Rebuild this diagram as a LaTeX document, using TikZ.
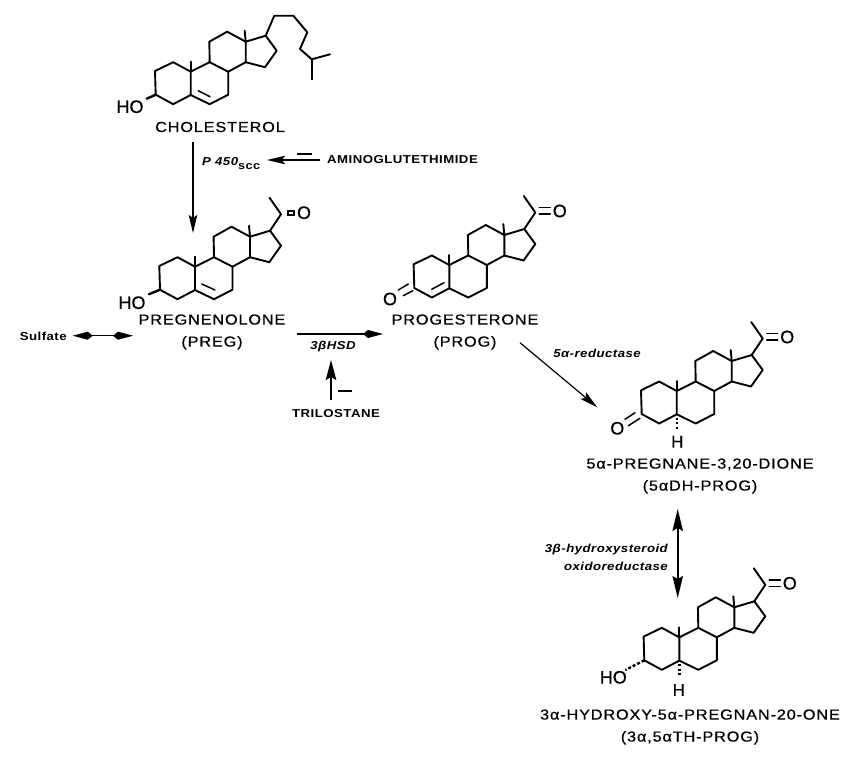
\documentclass[tikz,border=0pt]{standalone}
\usepackage{fontspec}
\usetikzlibrary{arrows.meta,calc}
\setmainfont[FakeBold=0.4]{Liberation Sans}
\newfontfamily\bigf[FakeStretch=1.12,LetterSpace=6,FakeBold=0.6]{Liberation Sans}
\newfontfamily\smf[FakeStretch=1.15,LetterSpace=4]{Liberation Sans}
\tikzset{
 bond/.style={line width=1.9pt,line join=round,line cap=round},
 thinbond/.style={line width=1.5pt,line cap=round},
 atom/.style={inner sep=0pt,font=\fontsize{18}{18}\selectfont},
 molname/.style={inner sep=0pt,align=center,font=\fontsize{14.5}{22}\bigf},
 smalltag/.style={inner sep=0pt,font=\fontsize{11.5}{18}\smf\bfseries},
 enz/.style={inner sep=0pt,align=right,font=\fontsize{11.5}{18}\smf\bfseries\itshape},
 arr/.style={line width=1.2pt,-{Stealth[length=18pt,width=8.5pt,inset=3pt]}},
 kitearr/.style={line width=1.2pt,-{Kite[length=20pt,width=8pt,inset=5pt]}},
 arrb/.style={line width=1.2pt,{Kite[length=20pt,width=8pt,inset=5pt]}-{Kite[length=20pt,width=8pt,inset=5pt]}},
 arrg/.style={line width=1.7pt,{Stealth[length=22pt,width=10.5pt,inset=3pt]}-{Stealth[length=22pt,width=10.5pt,inset=3pt]}},
 arrt/.style={line width=1.8pt,-{Stealth[length=20pt,width=10.5pt,inset=3pt]}},
}
\newcommand{\rings}{%
 \draw[bond] (0,0)--(0,23.3)--(-17.5,32.5)--(-35,23)--(-35.7,-.7)--(-17.5,-9.5)--(0,0)--(19,-9.5)--(37.5,0)--(37.5,23)--(19,32.5)--(0,23.3);
 \draw[bond] (19,-9.5)--(18.6,-30)--(36.5,-40)--(55,-30)--(55,-9.5)--(37.5,0);
 \draw[bond] (55,-30)--(75,-36)--(86,-21)--(74.3,-4.5)--(55,-9.5);
 \draw[bond] (0,0)--(0,-10);
 \draw[bond] (55,-30)--(54,-41);
}
\newcommand{\keto}{%
 \draw[bond] (75,-36)--(86,-52.5)--(74.5,-69);
 \draw[thinbond] (90,-57.5)--(101,-57.5);
 \draw[thinbond] (90,-51)--(101,-51);
 \node[atom] at (110.5,-54) {O};
}
\begin{document}
\begin{tikzpicture}[x=1pt,y=-1pt]
\useasboundingbox (0,0) rectangle (866,761);
% cholesterol
\begin{scope}[shift={(190.7,71.7)}]
 \rings
 \draw[thinbond] (7.6,19)--(19.3,25);
 \draw[bond] (75,-36)--(83.6,-56)--(102.6,-56)--(116.6,-39.4)--(109.3,-22.7)--(121,-12.4)--(139.3,-17.4);
 \draw[bond] (121,-12.4)--(121,7.6);
 \draw[line width=2.4pt,line cap=round] (-35,23)--(-44,27);
 \node[atom] at (-60.7,35) {HO};
\end{scope}
\node[molname] (chol) at (220,127) {CHOLESTEROL};
% pregnenolone
\begin{scope}[shift={(195,266.7)}]
 \rings
 \draw[thinbond] (6.7,17.3)--(20,23.3);
 \draw[bond] (75,-36)--(86,-52.5)--(74.5,-69);
 \fill (91.5,-57) rectangle (100,-51);
 \fill[white] (93.5,-55) rectangle (98,-53);
 \node[atom] at (109,-54) {O};
 \draw[line width=2.4pt,line cap=round] (-35,23)--(-46,27.5);
 \node[atom] at (-63,36) {HO};
\end{scope}
\node[molname] (preg) at (212,332) {PREGNENOLONE\\(PREG)};
% progesterone
\begin{scope}[shift={(449.3,265)}]
 \rings
 \keto
 \draw[thinbond] (-17.6,24.3)--(-5.3,17.7);
 \draw[thinbond] (-51,25)--(-41,19);
 \draw[thinbond] (-46,30.7)--(-36.6,25.7);
 \node[atom] at (-59.3,34) {O};
\end{scope}
\node[molname] (prog) at (465,332) {PROGESTERONE\\(PROG)};
% 5a-pregnane
\begin{scope}[shift={(676.7,391)}]
 \rings
 \keto
 \draw[thinbond] (-51.7,28.3)--(-41.7,21.7);
 \draw[thinbond] (-48.4,34.7)--(-36.7,27.3);
 \node[atom] at (-59.4,37.3) {O};
 \draw[line width=2.4pt,dash pattern=on 2pt off 2.3pt] (0,27)--(0,39);
 \node[atom,font=\fontsize{17}{17}\selectfont] at (.6,50.7) {H};
\end{scope}
\node[molname] (dh) at (700,476) {5α-PREGNANE-3,20-DIONE\\(5αDH-PROG)};
% 3a-hydroxy
\begin{scope}[shift={(679.3,637.3)}]
 \rings
 \keto
 \draw[line width=2.4pt,dash pattern=on 3pt off 2pt] (-35,23)--(-54,32.7);
 \node[atom] at (-66,40) {HO};
 \draw[line width=2.4pt,dash pattern=on 2pt off 2.3pt] (0,27)--(0,39);
 \node[atom,font=\fontsize{17}{17}\selectfont] at (-.5,52.7) {H};
\end{scope}
\node[molname] (th) at (690,727) {3α-HYDROXY-5α-PREGNAN-20-ONE\\(3α,5αTH-PROG)};
% connector ends
\coordinate (a1) at (193,142); \coordinate (a2) at (193,233);
\coordinate (b1) at (320,160); \coordinate (b2) at (267,160);
\coordinate (c1) at (72.7,335.7); \coordinate (c2) at (133,335.7);
\coordinate (d1) at (297,334); \coordinate (d2) at (383,334);
\coordinate (e1) at (331,400); \coordinate (e2) at (331,360);
\coordinate (f1) at (520,342.7); \coordinate (f2) at (597.3,407.3);
\coordinate (g1) at (677.7,509); \coordinate (g2) at (677.7,598);
\draw[arr] (a1)--(a2);
\draw[arr] (b1)--(b2);
\draw[line width=1.2pt] (297,154)--(312,154);
\draw[arrb] (c1)--(c2);
\draw[kitearr] (d1)--(d2);
\draw[arrt] (e1)--(e2);
\draw[line width=1.6pt] (338,391)--(352,391);
\draw[arr] (f1)--(f2);
\draw[arrg] (g1)--(g2);
% labels
\node[inner sep=0pt,anchor=west] (p450) at (202,163.5) {\fontsize{11.5}{12}\smf\bfseries\itshape P 450\raisebox{-4pt}{\fontsize{11}{12}\bfseries\upshape scc}};
\node[smalltag,anchor=west] (amino) at (327,160) {AMINOGLUTETHIMIDE};
\node[smalltag] (sulf) at (43.3,336.7) {Sulfate};
\node[enz] (hsd) at (333,347) {3βHSD};
\node[smalltag] (tril) at (336,414) {TRILOSTANE};
\node[enz] (red) at (597,353) {5α-reductase};
\node[enz,anchor=east] (hyd) at (668,557) {3β-hydroxysteroid\\oxidoreductase};
\end{tikzpicture}
\end{document}
